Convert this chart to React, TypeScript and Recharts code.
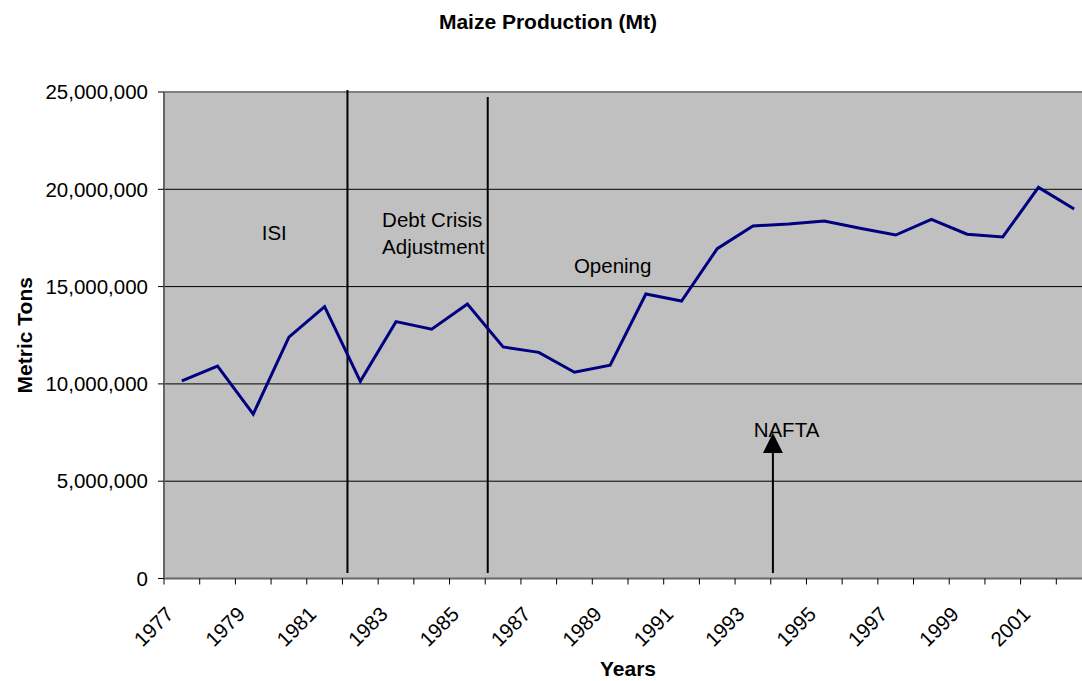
import { CartesianGrid, Line, LineChart, ReferenceDot, ReferenceLine, XAxis, YAxis } from 'recharts'

const years = [
  1977, 1978, 1979, 1980, 1981, 1982, 1983, 1984, 1985, 1986, 1987, 1988, 1989,
  1990, 1991, 1992, 1993, 1994, 1995, 1996, 1997, 1998, 1999, 2000, 2001, 2002,
]

// metric tons
const production = [
  10150000, 10920000, 8450000, 12400000, 13970000, 10130000, 13200000, 12810000,
  14110000, 11900000, 11620000, 10600000, 10960000, 14620000, 14260000, 16950000,
  18120000, 18220000, 18370000, 18000000, 17650000, 18460000, 17690000, 17550000,
  20100000, 18990000,
]

const yTicks = [0, 5000000, 10000000, 15000000, 20000000, 25000000]
const labelYears = [1977, 1979, 1981, 1983, 1985, 1987, 1989, 1991, 1993, 1995, 1997, 1999, 2001]
const boundaries = [...years.map((y) => y - 0.5), years[years.length - 1] + 0.5]

// period separators and annotations (in year / ton units)
const dividers = [
  { x: 1981.64, top: 25100000 },
  { x: 1985.57, top: 24740000 },
]
const dividerBottom = 280000
const nafta = { x: 1993.56, from: 280000, to: 7480000 }

const notes = [
  { x: 1979.59, y: 17390000, lines: ['ISI'], anchor: 'middle' },
  { x: 1982.61, y: 18080000, lines: ['Debt Crisis', 'Adjustment'], anchor: 'start' },
  { x: 1989.07, y: 15710000, lines: ['Opening'], anchor: 'middle' },
  { x: 1993.94, y: 7260000, lines: ['NAFTA'], anchor: 'middle' },
]

const data = years.map((year, i) => ({ year, tons: production[i] }))

const font = "'Liberation Sans', Arial, sans-serif"
const fmt = (n: number) => n.toLocaleString('en-US')

const NoTick = () => <g />

const YearTick = ({ x, y, payload }: any) => {
  const tx = x - 7
  const ty = y + 29
  return (
    <text
      x={tx}
      y={ty}
      textAnchor="end"
      transform={`rotate(-45, ${tx}, ${ty})`}
      fontSize={20.5}
      fontFamily={font}
      fill="#000"
    >
      {payload.value}
    </text>
  )
}

const ArrowShape = (p: any) => {
  const x = p.x1
  const tip = Math.min(p.y1, p.y2)
  const base = Math.max(p.y1, p.y2)
  return (
    <g>
      <line x1={x} y1={base} x2={x} y2={tip + 16} stroke="#000" strokeWidth={2} />
      <polygon points={`${x},${tip} ${x - 10},${tip + 20} ${x + 10},${tip + 20}`} fill="#000" />
    </g>
  )
}

const noteShape = (lines: string[], anchor: string) => (p: any) => (
  <text x={p.cx} y={p.cy} textAnchor={anchor} fontSize={20.5} fontFamily={font} fill="#000">
    {lines.map((l, i) => (
      <tspan key={l} x={p.cx} dy={i === 0 ? 0 : 27}>
        {l}
      </tspan>
    ))}
  </text>
)

export default function App() {
  return (
    <div
      style={{
        position: 'absolute',
        left: 0,
        top: 0,
        width: 1082,
        height: 681,
        overflow: 'hidden',
        background: '#fff',
        fontFamily: font,
      }}
    >
      <LineChart width={1100} height={681} data={data} margin={{ top: 92, right: 8, bottom: 0, left: 0 }}>
        <CartesianGrid vertical={false} stroke="#000" fill="#C0C0C0" />
        <XAxis
          dataKey="year"
          type="number"
          domain={[1976.5, 2002.5]}
          ticks={boundaries}
          interval={0}
          tick={<NoTick />}
          tickSize={6}
          height={8}
          stroke="#666"
          strokeWidth={2}
          tickLine={{ stroke: '#000', strokeWidth: 1 }}
        />
        <XAxis
          xAxisId="lab"
          dataKey="year"
          type="number"
          domain={[1976.5, 2002.5]}
          ticks={labelYears}
          interval={0}
          tick={<YearTick />}
          tickLine={false}
          axisLine={false}
          tickSize={0}
          tickMargin={0}
          height={94.5}
          label={{
            content: ({ viewBox }: any) => (
              <text
                x={viewBox.x + viewBox.width / 2}
                y={676}
                textAnchor="middle"
                fontSize={21}
                fontWeight="bold"
                fontFamily={font}
                fill="#000"
              >
                Years
              </text>
            ),
          }}
        />
        <YAxis
          domain={[0, 25000000]}
          ticks={yTicks}
          tickFormatter={fmt}
          width={164}
          tickSize={6}
          tickMargin={10}
          stroke="#666"
          strokeWidth={2}
          tickLine={{ stroke: '#000', strokeWidth: 1 }}
          tick={{ fontSize: 20.5, fontFamily: font, fill: '#000' }}
          label={{
            content: ({ viewBox }: any) => {
              const cx = viewBox.x + 32
              const cy = viewBox.y + viewBox.height / 2
              return (
                <text
                  x={cx}
                  y={cy}
                  textAnchor="middle"
                  transform={`rotate(-90, ${cx}, ${cy})`}
                  fontSize={21}
                  fontWeight="bold"
                  fontFamily={font}
                  fill="#000"
                >
                  Metric Tons
                </text>
              )
            },
          }}
        />
        <ReferenceLine y={25000000} stroke="#808080" strokeWidth={2} />
        {dividers.map((d) => (
          <ReferenceLine
            key={d.x}
            segment={[
              { x: d.x, y: d.top },
              { x: d.x, y: dividerBottom },
            ]}
            stroke="#000"
            strokeWidth={2}
            ifOverflow="visible"
          />
        ))}
        <ReferenceLine
          segment={[
            { x: nafta.x, y: nafta.from },
            { x: nafta.x, y: nafta.to },
          ]}
          shape={ArrowShape}
          ifOverflow="visible"
        />
        <Line
          dataKey="tons"
          stroke="#000080"
          strokeWidth={3}
          dot={false}
          activeDot={false}
          isAnimationActive={false}
        />
        {notes.map((n) => (
          <ReferenceDot key={n.lines[0]} x={n.x} y={n.y} r={0} shape={noteShape(n.lines, n.anchor)} />
        ))}
      </LineChart>
      <div
        style={{
          position: 'absolute',
          left: 0,
          top: 11,
          width: 1096,
          textAlign: 'center',
          fontSize: 21,
          lineHeight: '21px',
          fontWeight: 'bold',
          color: '#000',
        }}
      >
        Maize Production (Mt)
      </div>
    </div>
  )
}
